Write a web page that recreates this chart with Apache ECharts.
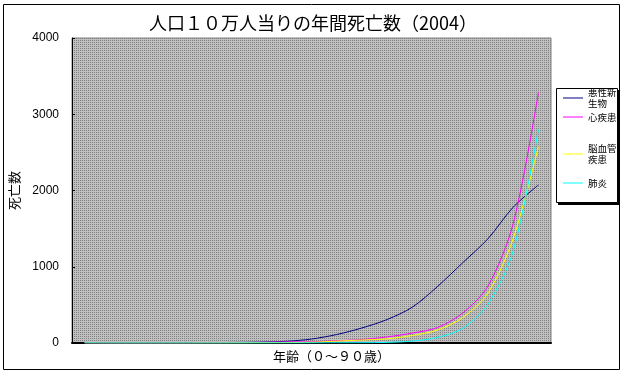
<!DOCTYPE html>
<html>
<head>
<meta charset="utf-8">
<script src="https://cdn.jsdelivr.net/npm/echarts@6/dist/echarts.min.js"></script>
<style>
html, body { margin: 0; padding: 0; background: #fff; }
#chart { width: 626px; height: 378px; }
</style>
</head>
<body>
<div id="chart"></div>
<script>
// age groups 0-4 ... 90+
var ageGroups = ['0-4', '5-9', '10-14', '15-19', '20-24', '25-29', '30-34', '35-39', '40-44',
    '45-49', '50-54', '55-59', '60-64', '65-69', '70-74', '75-79', '80-84', '85-89', '90-'];

var seriesNames = ['悪性新生物', '心疾患', '脳血管疾患', '肺炎'];
var cancerData = [2, 1, 1, 2, 4, 5, 8, 12, 22, 52, 111, 197, 308, 470, 741, 1053, 1367, 1781, 2072];
var heartData = [3, 1, 1, 1, 2, 3, 5, 8, 14, 17, 30, 45, 80, 130, 203, 393, 747, 1566, 3283];
var strokeData = [0, 0, 0, 0, 0, 1, 2, 4, 6, 10, 25, 39, 55, 98, 170, 334, 656, 1370, 2574];
var pneumoniaData = [3, 0, 0, 0, 0, 0, 0, 1, 1, 2, 3, 4, 8, 25, 72, 194, 511, 1207, 2803];
var yTicks = [0, 1000, 2000, 3000, 4000];

var lineColors = ['#000080', '#ff00ff', '#ffff00', '#00ffff'];
var legendLabels = {
    '悪性新生物': '悪性新\n生物',
    '脳血管疾患': '脳血管\n疾患'
};

// dotted gray plot background like the old Excel chart
var dots = document.createElement('canvas');
dots.width = 2;
dots.height = 2;
var ctx = dots.getContext('2d');
ctx.fillStyle = '#c0c0c0';
ctx.fillRect(0, 0, 2, 2);
ctx.fillStyle = '#808080';
ctx.fillRect(0, 0, 1, 1);

var chart = echarts.init(document.getElementById('chart'));

function makeLegend(name, top) {
    var twoLines = !!legendLabels[name];
    return {
        data: [name],
        left: 563,
        top: top,
        padding: 0,
        icon: 'rect',
        itemWidth: 20,
        itemHeight: 1,
        itemGap: 0,
        formatter: function(n) { return legendLabels[n] || n; },
        textStyle: {
            color: '#000',
            fontSize: 9.5,
            lineHeight: 11,
            fontFamily: 'Noto Sans CJK JP',
            padding: twoLines ? [11, 0, 0, 0] : 0
        }
    };
}

var seriesList = [cancerData, heartData, strokeData, pneumoniaData].map(function(values, i) {
    return {
        name: seriesNames[i],
        type: 'line',
        data: values,
        smooth: 0.3,
        showSymbol: false,
        symbol: 'none',
        animation: false,
        lineStyle: { color: lineColors[i], width: 1 },
        itemStyle: { color: lineColors[i] }
    };
});

var chartOptions = {
    backgroundColor: '#fff',
    animation: false,
    title: {
        text: '人口１０万人当りの年間死亡数（2004）',
        left: 'center',
        top: 9,
        textStyle: {
            fontFamily: 'Noto Sans CJK JP',
            fontSize: 18,
            fontWeight: 'normal',
            color: '#000'
        }
    },
    legend: [
        makeLegend(seriesNames[0], 81.5),
        makeLegend(seriesNames[1], 111.5),
        makeLegend(seriesNames[2], 137.5),
        makeLegend(seriesNames[3], 177.5)
    ],
    grid: {
        left: 70,
        right: 75,
        top: 38,
        bottom: 35,
        show: true,
        backgroundColor: { image: dots, repeat: 'repeat' },
        borderColor: '#808080',
        borderWidth: 1
    },
    xAxis: {
        type: 'category',
        data: ageGroups,
        boundaryGap: true,
        name: '年齢（０～９０歳）',
        nameLocation: 'middle',
        nameGap: 7,
        nameTextStyle: {
            fontFamily: 'Noto Sans CJK JP',
            fontSize: 13,
            color: '#000',
            padding: [0, 0, 0, 40]
        },
        axisLine: { lineStyle: { color: '#000', width: 2 } },
        axisTick: { show: false },
        axisLabel: { show: false },
        splitLine: { show: false }
    },
    yAxis: {
        type: 'value',
        min: yTicks[0],
        max: yTicks[yTicks.length - 1],
        interval: 1000,
        name: '死亡数',
        nameLocation: 'middle',
        nameRotate: 90,
        nameGap: 51,
        nameTextStyle: {
            fontFamily: 'Noto Sans CJK JP',
            fontSize: 13,
            color: '#000'
        },
        axisLine: { show: true, lineStyle: { color: '#000', width: 1 } },
        axisTick: { show: true, inside: true, length: 3, lineStyle: { color: '#000' } },
        axisLabel: {
            margin: 13,
            color: '#000',
            fontSize: 12,
            fontFamily: 'Liberation Sans Narrow, Liberation Sans',
            formatter: function(v) { return String(v); }
        },
        splitLine: { show: false }
    },
    graphic: [
        {
            type: 'rect',
            shape: { x: 3.5, y: 4.5, width: 616, height: 365 },
            style: { fill: 'none', stroke: '#000', lineWidth: 1 },
            z: -1
        },
        {
            type: 'rect',
            shape: { x: 558, y: 90, width: 62, height: 115 },
            style: { fill: '#000' },
            z: -1
        },
        {
            type: 'rect',
            shape: { x: 556.5, y: 88.5, width: 61, height: 114 },
            style: { fill: '#fff', stroke: '#000', lineWidth: 1 },
            z: -1
        }
    ],
    series: seriesList
};

chart.setOption(chartOptions);
</script>
</body>
</html>
